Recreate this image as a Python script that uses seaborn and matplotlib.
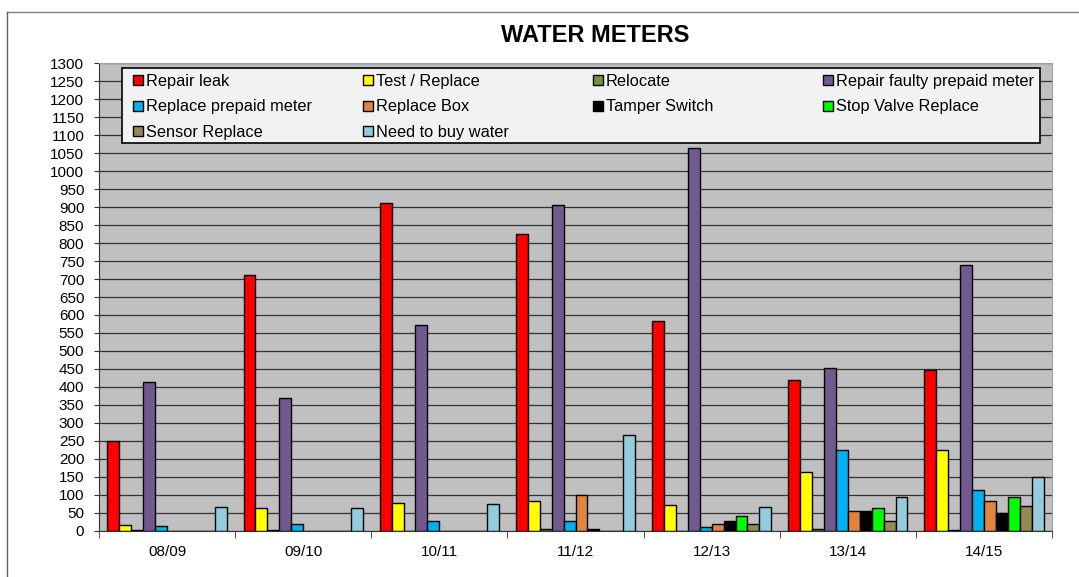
import numpy as np
import pandas as pd
import matplotlib.pyplot as plt
import seaborn as sns
from matplotlib.patches import Patch, Rectangle
from matplotlib.lines import Line2D
from matplotlib.legend import Legend

# Data
years = ["08/09", "09/10", "10/11", "11/12", "12/13", "13/14", "14/15"]
series = ["Repair leak", "Test / Replace", "Relocate", "Repair faulty prepaid meter",
          "Replace prepaid meter", "Replace Box", "Tamper Switch", "Stop Valve Replace",
          "Sensor Replace", "Need to buy water"]
repair_leak = [250, 711, 912, 825, 583, 420, 446]
test_replace = [15, 64, 78, 83, 71, 163, 225]
relocate = [2, 2, 0, 5, 0, 4, 3]
repair_faulty = [413, 369, 573, 905, 1065, 452, 740]
replace_prepaid = [12, 18, 28, 26, 10, 224, 114]
replace_box = [0, 0, 0, 100, 20, 56, 83]
tamper_switch = [0, 0, 0, 4, 26, 56, 48]
stop_valve = [0, 0, 0, 0, 40, 62, 95]
sensor_replace = [0, 0, 0, 0, 18, 27, 68]
buy_water = [67, 64, 74, 265, 65, 94, 148]

colors = ["#FF0000", "#FFFF00", "#77933C", "#725990", "#00B0F0",
          "#E0843F", "#000000", "#00FF00", "#948A54", "#93CDDD"]

values = [repair_leak, test_replace, relocate, repair_faulty, replace_prepaid,
          replace_box, tamper_switch, stop_valve, sensor_replace, buy_water]
rows = []
for name, vals in zip(series, values):
    for yr, v in zip(years, vals):
        rows.append({"Year": yr, "Type": name, "Count": v})
df = pd.DataFrame(rows)

W, H = 1079, 577
fig = plt.figure(figsize=(W / 100, H / 100), dpi=100)
plt.rcParams["font.family"] = ["Liberation Sans", "DejaVu Sans"]
ax = fig.add_axes([99 / W, 1 - 530.7 / H, 953 / W, 467.4 / H])
ax.set_facecolor("#C0C0C0")

sns.barplot(data=df, x="Year", y="Count", hue="Type", order=years, hue_order=series,
            palette=colors, width=0.877, saturation=1, edgecolor="black",
            linewidth=1, errorbar=None, legend=False, ax=ax)

ax.set_ylim(0, 1300)
ax.set_xlim(-0.5, 6.5)
ax.set_yticks(np.arange(0, 1301, 50))
ax.set_axisbelow(True)
ax.yaxis.grid(True, color="#333333", lw=0.9)
ax.set_xlabel("")
ax.set_ylabel("")
ax.tick_params(axis="y", labelsize=11, length=3.6, pad=7, color="#333333")
ax.set_xticks(range(len(years)))
ax.set_xticklabels(years)
ax.tick_params(axis="x", which="major", labelsize=11, length=0, pad=10)
ax.set_xticks(np.arange(-0.5, 7, 1), minor=True)
ax.tick_params(axis="x", which="minor", length=5, color="#333333")
for s in ["left", "bottom"]:
    ax.spines[s].set_color("#333333")
for s in ["top", "right"]:
    ax.spines[s].set_color("#A0A0A0")

# Legend box with four columns filled row by row
ax.add_patch(Rectangle((23 / 953, 0.829), 918 / 953, 0.161, transform=ax.transAxes,
                       facecolor="#F2F2F2", edgecolor="black", lw=1.2, zorder=4))
col_x = [133, 363, 593, 823]
handles = [Patch(facecolor=c, edgecolor="black", lw=1) for c in colors]
for i, x in enumerate(col_x):
    idx = list(range(i, len(series), 4))
    leg = Legend(ax, [handles[j] for j in idx], [series[j] for j in idx],
                 loc="upper left", bbox_to_anchor=(x / W, 1 - 74 / H),
                 bbox_transform=fig.transFigure, frameon=False, fontsize=11.8,
                 borderpad=0, borderaxespad=0, handlelength=0.6, handleheight=0.6,
                 handletextpad=0.2, labelspacing=0.64)
    leg.set_zorder(5)
    ax.add_artist(leg)

fig.text(595 / W, 1 - 36 / H, "WATER METERS", ha="center", va="center",
         fontsize=17, fontweight="bold")

# Outer chart frame (top and left edges visible)
fig.add_artist(Line2D([7 / W, 1], [1 - 12 / H, 1 - 12 / H], color="#808080", lw=1))
fig.add_artist(Line2D([7 / W, 7 / W], [1 - 12 / H, 0], color="#606060", lw=1))

fig.savefig("out.png", dpi=100)
